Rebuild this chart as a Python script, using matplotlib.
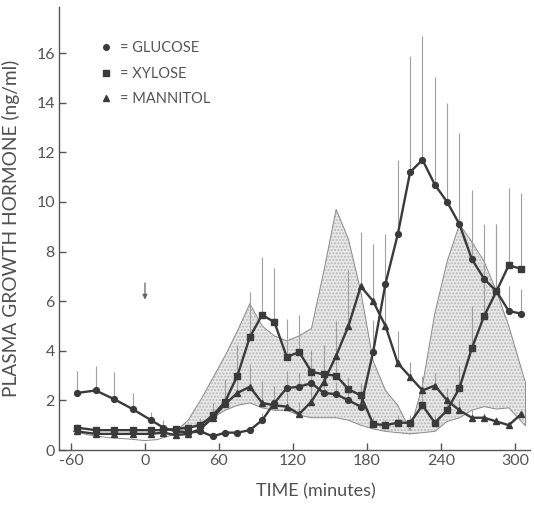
import matplotlib
matplotlib.use("Agg")
import matplotlib.pyplot as plt
from matplotlib.lines import Line2D
import numpy as np

plt.rcParams['font.family'] = ['Lato', 'DejaVu Sans']

# ---------------- data ----------------
time_min = [-55, -40, -25, -10, 5, 15, 25, 35, 45, 55, 65, 75, 85, 95, 105, 115, 125,
            135, 145, 155, 165, 175, 185, 195, 205, 215, 225, 235, 245, 255, 265, 275,
            285, 295, 305]

glucose = [2.3, 2.4, 2.05, 1.65, 1.2, 0.9, 0.75, 0.7, 0.75, 0.55, 0.7, 0.7, 0.8, 1.2,
           1.9, 2.5, 2.55, 2.7, 2.3, 2.25, 2.0, 1.75, 3.95, 6.7, 8.7, 11.2, 11.7, 10.7,
           10.0, 9.1, 7.7, 6.9, 6.4, 5.6, 5.5]
glucose_se = [0.9, 1.0, 1.1, 0.65, 0.35, 0.3, 0.15, 0.1, 0.1, 0.1, 0.1, 0.1, 0.1, 0.3,
              0.5, 0.7, 0.6, 0.6, 0.5, 0.5, 0.5, 0.5, 1.3, 2.0, 3.0, 4.7, 5.0, 4.35,
              4.0, 3.7, 2.8, 2.2, 2.7, 1.0, 1.0]

xylose = [0.9, 0.8, 0.8, 0.8, 0.8, 0.8, 0.85, 0.9, 1.0, 1.4, 1.95, 3.0, 4.55, 5.45,
          5.15, 3.75, 3.95, 3.15, 3.05, 3.0, 2.45, 2.2, 1.05, 1.0, 1.1, 1.1, 1.8, 1.1,
          1.6, 2.5, 4.1, 5.4, 6.4, 7.45, 7.3]
xylose_se = [0.15, 0.1, 0.1, 0.1, 0.1, 0.1, 0.1, 0.1, 0.3, 0.5, 0.9, 1.25, 1.8, 2.35,
             2.2, 1.55, 1.5, 0.9, 1.2, 0.6, 0.5, 0.5, 0.3, 0.2, 0.3, 0.3, 0.5, 0.3,
             0.4, 0.9, 1.7, 2.0, 2.7, 3.1, 3.05]

mannitol = [0.75, 0.65, 0.65, 0.65, 0.65, 0.7, 0.6, 0.65, 0.85, 1.3, 1.85, 2.3, 2.55,
            1.9, 1.8, 1.75, 1.45, 1.95, 2.75, 3.8, 5.0, 6.6, 6.0, 5.0, 3.5, 2.95, 2.4,
            2.6, 2.0, 1.6, 1.3, 1.3, 1.15, 1.0, 1.45]
mannitol_se = [0.1, 0.1, 0.1, 0.1, 0.1, 0.1, 0.1, 0.1, 0.3, 0.4, 0.95, 1.0, 0.9, 0.9,
               0.8, 0.6, 0.5, 0.8, 0.9, 1.4, 2.25, 2.2, 2.3, 1.8, 1.3, 0.6, 0.6, 0.5,
               0.5, 0.4, 0.3, 0.2, 0.2, 0.1, 0.1]

# shaded (stippled) bands
band1_t = [25, 35, 45, 55, 65, 75, 85, 95, 105, 115, 125, 135, 145, 155, 165, 175,
           185, 195, 205, 215]
band1_hi = [0.75, 1.2, 2.0, 2.9, 3.8, 4.8, 5.9, 5.0, 4.6, 4.4, 4.6, 4.9, 7.2, 9.7,
            8.5, 6.4, 3.6, 2.4, 1.8, 0.8]
band1_lo = [0.7, 0.85, 1.1, 1.3, 1.6, 1.8, 1.9, 1.7, 1.6, 1.6, 1.4, 1.3, 1.3, 1.3,
            1.2, 1.0, 0.85, 0.75, 0.7, 0.65]

band2_t = [215, 225, 235, 245, 255, 265, 275, 285, 295, 308]
band2_hi = [0.8, 2.6, 5.5, 7.6, 9.1, 8.4, 7.6, 6.4, 5.0, 2.8]
band2_lo = [0.65, 0.7, 0.75, 1.15, 1.3, 1.6, 1.75, 1.65, 1.7, 1.0]

base_t = [-58, -45, -30, -15, 0, 10, 25]
base_v = [0.75, 0.6, 0.5, 0.45, 0.38, 0.42, 0.65]

x_ticks = [-60, 0, 60, 120, 180, 240, 300]
y_ticks = [0, 2, 4, 6, 8, 10, 12, 14, 16]

# ---------------- figure ----------------
fig = plt.figure(figsize=(5.34, 5.05), dpi=100)
ax = fig.add_axes([59 / 534, 55 / 505, 471 / 534, 443 / 505])
ax.set_xlim(-69.7, 312.2)
ax.set_ylim(0, 17.86)

line_c = '#3a3a3a'
thin_c = '#8a8a8a'

for t, hi, lo in [(band1_t, band1_hi, band1_lo), (band2_t, band2_hi, band2_lo)]:
    ax.fill_between(t, lo, hi, facecolor='#e9e9e9', edgecolor='#b8b8b8',
                    hatch='.....', linewidth=0, zorder=1)
    ax.plot(t, hi, color=thin_c, lw=0.7, zorder=2)
    ax.plot(t, lo, color=thin_c, lw=0.7, zorder=2)
ax.plot([band2_t[-1], band2_t[-1]], [band2_lo[-1], band2_hi[-1]], color=thin_c, lw=0.7)
ax.plot(base_t, base_v, color=thin_c, lw=0.7, zorder=2)

series = [(glucose, glucose_se, 'o', 4.2), (xylose, xylose_se, 's', 3.8),
          (mannitol, mannitol_se, '^', 4.5)]
t_arr = np.array(time_min)
for vals, se, mk, ms in series:
    v = np.array(vals)
    s = np.array(se)
    ax.vlines(t_arr, v, v + s, color='#a0a0a0', lw=0.8, zorder=3)
    ax.plot(t_arr, v, color=line_c, lw=1.7, marker=mk, ms=ms, zorder=4)

# arrow at t = 0
ax.annotate('', xy=(0, 5.95), xytext=(0, 6.85),
            arrowprops=dict(arrowstyle='-|>', color='#666666', lw=0.9,
                            mutation_scale=7))

# axes styling
for side in ['top', 'right']:
    ax.spines[side].set_visible(False)
for side in ['left', 'bottom']:
    ax.spines[side].set_color('#555555')
    ax.spines[side].set_linewidth(1.0)
ax.set_xticks(x_ticks)
ax.set_yticks(y_ticks)
ax.set_xticklabels([str(v) for v in x_ticks])
ax.set_yticklabels([str(v) for v in y_ticks])
ax.tick_params(direction='in', length=5, width=1.0, color='#555555',
               labelcolor='#555555', labelsize=11.5, pad=3)

ax.set_xlabel('TIME (minutes)', fontsize=13, color='#505050')
ax.set_ylabel('PLASMA GROWTH HORMONE (ng/ml)', fontsize=13.8, color='#505050')
ax.xaxis.set_label_coords(0.546, -0.075)
ax.yaxis.set_label_coords(-0.083, 0.5)

handles = [Line2D([], [], color=line_c, marker=m, ls='none', ms=s)
           for m, s in [('o', 4), ('s', 3.8), ('^', 4.3)]]
leg = ax.legend(handles, ['= GLUCOSE', '= XYLOSE', '= MANNITOL'], loc='upper left',
                bbox_to_anchor=(0.062, 0.952), frameon=False, handlelength=0.6,
                handletextpad=0.7, labelspacing=0.78, fontsize=10.5)
for txt in leg.get_texts():
    txt.set_color('#555555')

fig.savefig('out.png', dpi=100, facecolor='white')
